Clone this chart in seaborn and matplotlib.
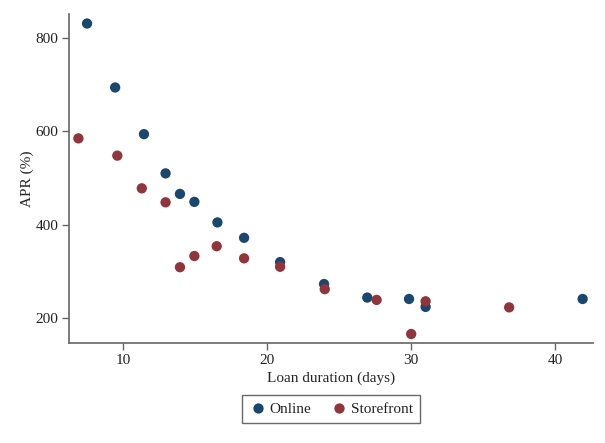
import matplotlib
matplotlib.use("Agg")
import matplotlib.pyplot as plt
import seaborn as sns
import pandas as pd

online_days = [7.5, 9.45, 11.45, 12.95, 13.95, 14.95, 16.55, 18.4, 20.9, 23.95, 26.95, 29.85, 31.0, 41.9]
online_apr = [831, 694, 594, 510, 466, 449, 405, 372, 320, 273, 244, 241, 224, 241]
store_days = [6.9, 9.6, 11.3, 12.95, 13.95, 14.95, 16.5, 18.4, 20.9, 24.0, 27.6, 30.0, 31.0, 36.8]
store_apr = [585, 548, 478, 448, 309, 333, 354, 328, 310, 262, 239, 166, 236, 223]
groups = ["Online", "Storefront"]
colors = ["#1a476f", "#90353b"]

df = pd.concat([
    pd.DataFrame({"days": online_days, "apr": online_apr, "type": groups[0]}),
    pd.DataFrame({"days": store_days, "apr": store_apr, "type": groups[1]}),
])

sns.set_style("white")
plt.rcParams["font.family"] = ["Liberation Serif", "DejaVu Serif"]
plt.rcParams["text.color"] = "#222222"

fig = plt.figure(figsize=(6.05, 4.43), dpi=100)
ax = fig.add_axes([0.1146, 0.225, 0.8651, 0.743])
sns.scatterplot(data=df, x="days", y="apr", hue="type", hue_order=groups,
                palette=colors, s=55, linewidth=0, ax=ax, legend=True)

ax.set_xlim(6.27, 42.6)
ax.set_ylim(146, 851)
ax.set_xticks([10, 20, 30, 40])
ax.set_yticks([200, 400, 600, 800])
ax.set_xlabel("Loan duration (days)", fontsize=11, labelpad=3)
ax.set_ylabel("APR (%)", fontsize=11, labelpad=1)
for s in ["top", "right"]:
    ax.spines[s].set_visible(False)
for s in ["left", "bottom"]:
    ax.spines[s].set_color("#666666")
    ax.spines[s].set_linewidth(1.2)
ax.tick_params(axis="both", which="major", direction="out", length=5,
               width=1, color="#666666", labelsize=11, labelcolor="#222222",
               left=True, bottom=True, pad=3)

handles, labels = ax.get_legend_handles_labels()
leg = ax.legend(handles, labels, loc="upper center", bbox_to_anchor=(0.5, -0.135),
                ncol=2, frameon=True, fancybox=False, fontsize=11,
                handletextpad=0.2, columnspacing=1.3, borderpad=0.45,
                markerscale=1.0, handlelength=1.1)
leg.get_frame().set_edgecolor("#444444")
leg.get_frame().set_linewidth(1.0)

fig.savefig("out.png", dpi=100)
